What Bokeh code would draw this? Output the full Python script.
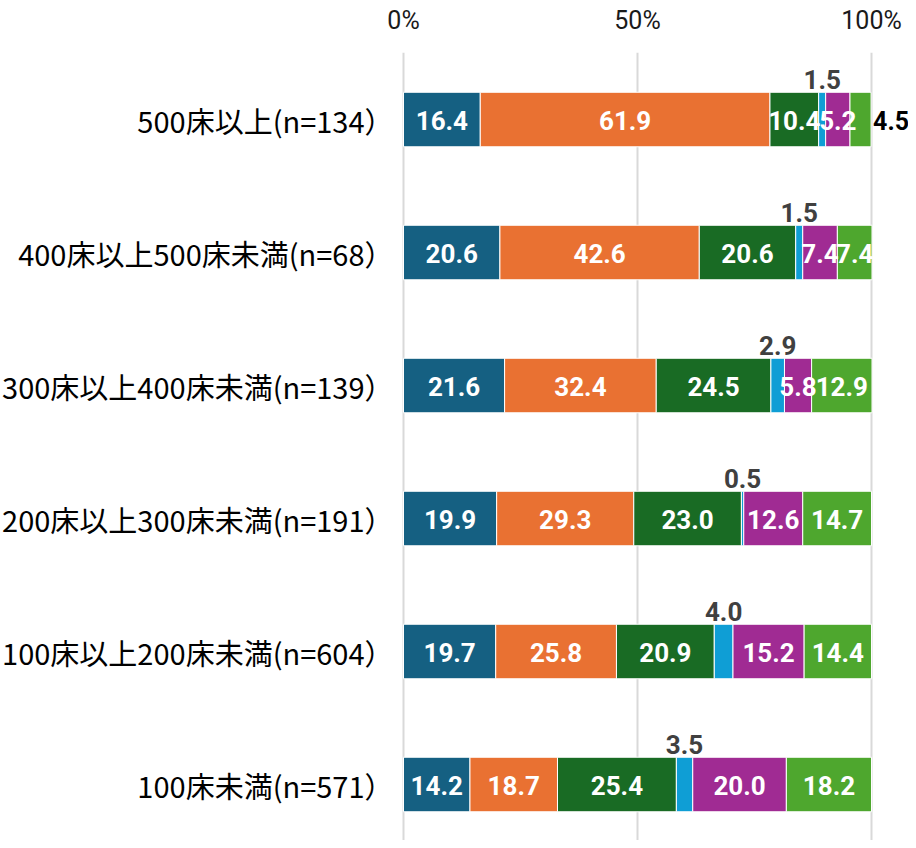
import numpy as np
from bokeh.plotting import figure
from bokeh.models import ColumnDataSource, Range1d, LinearAxis, FixedTicker, Grid
from bokeh.core.properties import value
from bokeh.embed import file_html
from bokeh.resources import INLINE

categories = [
    "500床以上(n=134）",
    "400床以上500床未満(n=68）",
    "300床以上400床未満(n=139）",
    "200床以上300床未満(n=191）",
    "100床以上200床未満(n=604）",
    "100床未満(n=571）",
]
series_a = [16.4, 20.6, 21.6, 19.9, 19.7, 14.2]
series_b = [61.9, 42.6, 32.4, 29.3, 25.8, 18.7]
series_c = [10.4, 20.6, 24.5, 23.0, 20.9, 25.4]
series_d = [1.5, 1.5, 2.9, 0.5, 4.0, 3.5]
series_e = [5.2, 7.4, 5.8, 12.6, 15.2, 20.0]
series_f = [4.5, 7.4, 12.9, 14.7, 14.4, 18.2]
tick_values = [0, 50, 100]
tick_labels = {0: "0%", 50: "50%", 100: "100%"}

series = [series_a, series_b, series_c, series_d, series_e, series_f]
colors = ["#156082", "#E97132", "#196B24", "#0F9ED5", "#A02B93", "#4EA72E"]

# row positions on a numeric axis: first category at top
n = len(categories)
y_pos = [n - 0.5 - k for k in range(n)]

W, H = 908, 840
p = figure(
    width=W, height=H,
    y_range=Range1d(0.079, 6.004),
    x_range=Range1d(-86.11, 107.9),
    output_backend="svg", toolbar_location=None,
    x_axis_location=None, y_axis_location=None,
    min_border_left=0, min_border_right=0, min_border_bottom=0, min_border_top=52,
)
p.outline_line_color = None
p.background_fill_color = "white"
p.border_fill_color = "white"

ax = LinearAxis(ticker=FixedTicker(ticks=tick_values))
ax.major_label_overrides = {k: v for k, v in tick_labels.items()}
ax.axis_line_color = None
ax.major_tick_line_color = None
ax.minor_tick_line_color = None
ax.major_label_standoff = 12
ax.major_label_text_font = "Roboto"
ax.major_label_text_font_size = "25px"
ax.major_label_text_color = "#1a1a1a"
p.add_layout(ax, "above")

p.xgrid.grid_line_color = None
p.ygrid.grid_line_color = None
g = Grid(dimension=0, ticker=ax.ticker, grid_line_color="#d9d9d9", grid_line_width=2)
p.add_layout(g)

arr = np.array(series)
cum = np.cumsum(arr, axis=0)
lefts = cum - arr

for i, vals in enumerate(series):
    src = ColumnDataSource(dict(y=y_pos, left=lefts[i], right=cum[i]))
    p.hbar(y="y", left="left", right="right", height=0.41, source=src,
           fill_color=colors[i], line_color="white", line_width=1)

in_x, in_y, in_t = [], [], []
above_x, above_y, above_t = [], [], []
out_x, out_y, out_t = [], [], []
for i, vals in enumerate(series):
    for j, v in enumerate(vals):
        mid = lefts[i][j] + v / 2
        t = f"{v:.1f}"
        if i == 3:
            above_x.append(mid); above_y.append(y_pos[j] + 0.205); above_t.append(t)
        elif i == 5 and v < 5:
            out_x.append(cum[i][j]); out_y.append(y_pos[j]); out_t.append(t)
        else:
            in_x.append(mid); in_y.append(y_pos[j]); in_t.append(t)

p.text(x=in_x, y=in_y, text=in_t, text_align="center", text_baseline="middle",
       text_color="white", text_font=value("Roboto"), text_font_style="bold",
       text_font_size="26px", y_offset=1)
p.text(x=above_x, y=above_y, text=above_t, text_align="center", text_baseline="bottom",
       text_color="#404040", text_font=value("Roboto"), text_font_style="bold",
       text_font_size="26px", y_offset=-3)
p.text(x=out_x, y=out_y, text=out_t, text_align="left", text_baseline="middle",
       text_color="#000000", text_font=value("Roboto"), text_font_style="bold",
       text_font_size="25px", x_offset=2, y_offset=1)

p.text(x=[0] * n, y=y_pos, text=categories, text_align="right",
       text_baseline="middle", text_color="#000000", text_font=value("Noto Sans CJK JP"),
       text_font_size="29px", x_offset=-10, y_offset=0)

open("out.html", "w").write(file_html(p, INLINE))
